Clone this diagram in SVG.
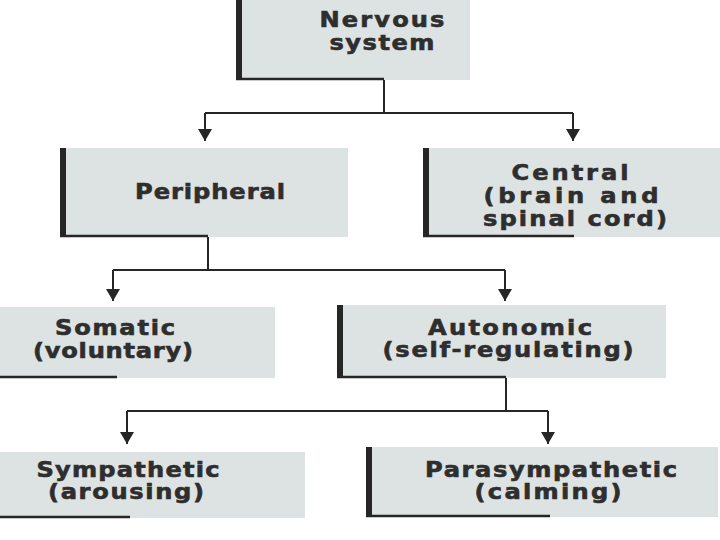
<svg xmlns="http://www.w3.org/2000/svg" width="720" height="540" viewBox="0 0 720 540">
<defs>
<marker id="arr" viewBox="0 0 12 14" refX="12" refY="7" markerWidth="12" markerHeight="14" markerUnits="userSpaceOnUse" orient="auto">
<path d="M0,0 L12,7 L0,14 Z" fill="#262626"/>
</marker>
</defs>
<style>
.box{fill:#dde3e2}
.bar{fill:#262626}
.base{stroke:#262626;stroke-width:2.5;fill:none}
.con{stroke:#262626;stroke-width:2;fill:none}
text{font-family:"DejaVu Sans","Open Sans",sans-serif;font-weight:bold;font-size:21px;fill:#2e2e2e;stroke:#2e2e2e;stroke-width:0.6;text-anchor:middle}
</style>
<rect width="720" height="540" fill="#ffffff"/>
<g id="connectors">
<path class="con" d="M384,80 V113"/>
<path class="con" d="M205,113 H573"/>
<path class="con" d="M205,113 V141" marker-end="url(#arr)"/>
<path class="con" d="M573,113 V141" marker-end="url(#arr)"/>
<path class="con" d="M208,237 V270"/>
<path class="con" d="M113,270 H505"/>
<path class="con" d="M113,270 V301" marker-end="url(#arr)"/>
<path class="con" d="M505,270 V301" marker-end="url(#arr)"/>
<path class="con" d="M506,378 V411"/>
<path class="con" d="M127,411 H548"/>
<path class="con" d="M127,411 V444" marker-end="url(#arr)"/>
<path class="con" d="M548,411 V444" marker-end="url(#arr)"/>
</g>
<g id="nervous">
<rect class="box" x="236" y="-2" width="234" height="82"/>
<rect class="bar" x="236" y="-2" width="6" height="82"/>
<path class="base" d="M236,79 H384"/>
<text transform="translate(382,27) scale(1.15,1)" textLength="108.7" lengthAdjust="spacing">Nervous</text>
<text transform="translate(382,50) scale(1.15,1)" textLength="91.3" lengthAdjust="spacing">system</text>
</g>
<g id="peripheral">
<rect class="box" x="60" y="148" width="288" height="89"/>
<rect class="bar" x="60" y="148" width="6" height="89"/>
<path class="base" d="M60,236 H208"/>
<text transform="translate(210,199) scale(1.15,1)" textLength="130.4" lengthAdjust="spacing">Peripheral</text>
</g>
<g id="central">
<rect class="box" x="423" y="148" width="297" height="89"/>
<rect class="bar" x="423" y="148" width="6" height="89"/>
<path class="base" d="M423,236 H574"/>
<text transform="translate(570,180) scale(1.15,1)" textLength="101.7" lengthAdjust="spacing">Central</text>
<text transform="translate(571,203) scale(1.15,1)" textLength="152.2" lengthAdjust="spacing">(brain and</text>
<text transform="translate(575,226) scale(1.15,1)" textLength="160" lengthAdjust="spacing">spinal cord)</text>
</g>
<g id="somatic">
<rect class="box" x="0" y="307" width="275" height="71"/>
<path class="base" d="M0,377 H117"/>
<text transform="translate(115,335) scale(1.15,1)" textLength="104.3" lengthAdjust="spacing">Somatic</text>
<text transform="translate(113,358) scale(1.15,1)" textLength="139.1" lengthAdjust="spacing">(voluntary)</text>
</g>
<g id="autonomic">
<rect class="box" x="337" y="305" width="329" height="73"/>
<rect class="bar" x="337" y="305" width="6" height="73"/>
<path class="base" d="M337,377 H506"/>
<text transform="translate(510,335) scale(1.15,1)" textLength="142.6" lengthAdjust="spacing">Autonomic</text>
<text transform="translate(508,357) scale(1.15,1)" textLength="218.3" lengthAdjust="spacing">(self-regulating)</text>
</g>
<g id="sympathetic">
<rect class="box" x="0" y="452" width="305" height="66"/>
<path class="base" d="M0,517 H130"/>
<text transform="translate(128,477) scale(1.15,1)" textLength="159.1" lengthAdjust="spacing">Sympathetic</text>
<text transform="translate(126,499) scale(1.15,1)" textLength="135.7" lengthAdjust="spacing">(arousing)</text>
</g>
<g id="parasympathetic">
<rect class="box" x="366" y="447" width="352" height="70"/>
<rect class="bar" x="366" y="447" width="6" height="70"/>
<path class="base" d="M366,516 H550"/>
<text transform="translate(551,477) scale(1.15,1)" textLength="219.1" lengthAdjust="spacing">Parasympathetic</text>
<text transform="translate(548,499) scale(1.15,1)" textLength="127.8" lengthAdjust="spacing">(calming)</text>
</g>
</svg>
